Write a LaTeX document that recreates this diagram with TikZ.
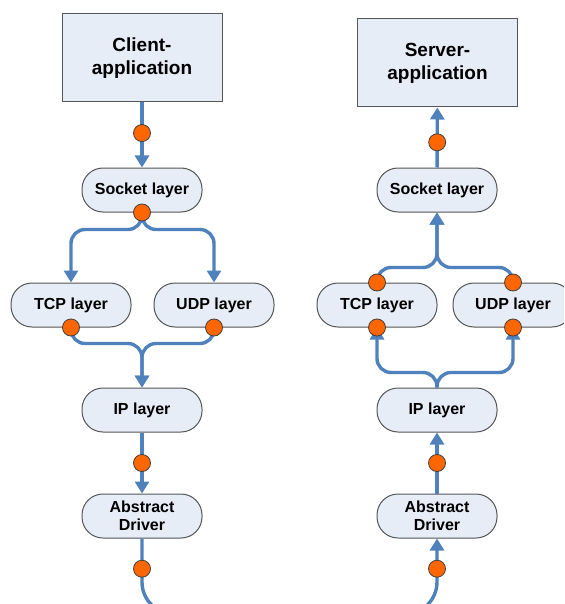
\documentclass[tikz,border=0pt]{standalone}
\usepackage{fontspec}
\setmainfont{Liberation Sans}
\usetikzlibrary{arrows.meta,positioning}
\definecolor{flowblue}{RGB}{79,129,189}
\definecolor{layerfill}{RGB}{231,237,247}
\definecolor{edgegray}{RGB}{85,85,85}
\definecolor{dotorange}{RGB}{255,102,0}

\tikzset{
  appbox/.style={draw=edgegray,fill=layerfill,line width=1pt,minimum width=160pt,
    minimum height=88pt,align=center,font=\bfseries\fontsize{19}{23}\selectfont},
  layer/.style={draw=edgegray,fill=layerfill,line width=1pt,rounded corners=21pt,
    minimum width=120pt,minimum height=44pt,align=center,
    font=\bfseries\fontsize{16}{18}\selectfont},
  flow/.style={flowblue,line width=3.4pt},
  dot/.style={circle,draw=black!75,fill=dotorange,line width=0.8pt,
    minimum size=17pt,inner sep=0pt}
}

\begin{document}
\begin{tikzpicture}[x=1pt,y=-1pt,>={Triangle[length=12pt,width=14pt]}]
  \useasboundingbox (0,0) rectangle (564,604);
  \clip (0,0) rectangle (564,604);

  % client side
  \node[appbox] (client) at (142,58) {Client-\\application};
  \node[layer] (sockL) at (142,190) {Socket layer};
  \node[layer] (tcpL) at (71,305) {TCP layer};
  \node[layer] (udpL) at (214,305) {UDP layer};
  \node[layer] (ipL) at (142,410) {IP layer};
  \node[layer] (absL) at (142,516) {Abstract\\Driver};
  \coordinate (outL) at (210,614);

  \draw[flow,->] (client) -- node[dot,pos=.47] (dC) {} (sockL);
  \draw[flow,->,rounded corners=14pt] (sockL.south) -- ++(0,17) -| (tcpL.north);
  \draw[flow,->,rounded corners=14pt] (sockL.south) -- ++(0,17) -| (udpL.north);
  \draw[flow,->,rounded corners=14pt] (tcpL.south) -- ++(0,16) -| (ipL.north);
  \draw[flow,->,rounded corners=14pt] (udpL.south) -- ++(0,16) -| (ipL.north);
  \draw[flow,->] (ipL) -- node[dot,pos=.5] (dIL) {} (absL);
  \draw[flow,rounded corners=32pt] (absL.south) |- node[dot,pos=.2] (dAL) {} (outL);
  \node[dot] (dSL) at (sockL.south) {};
  \node[dot] (dTL) at (tcpL.south) {};
  \node[dot] (dUL) at (udpL.south) {};

  % server side
  \node[appbox] (server) at (437.5,63) {Server-\\application};
  \node[layer] (sockR) at (437,190) {Socket layer};
  \node[layer] (tcpR) at (377,305) {TCP layer};
  \node[layer] (udpR) at (513,305) {UDP layer};
  \node[layer] (ipR) at (437,410) {IP layer};
  \node[layer] (absR) at (437,516) {Abstract\\Driver};
  \coordinate (inR) at (370,614);

  \draw[flow,->] (sockR) -- node[dot,pos=.42] (dSR) {} (server);
  \draw[flow,->,rounded corners=14pt] (tcpR.north) -- ++(0,-15) -| (sockR.south);
  \draw[flow,->,rounded corners=14pt] (udpR.north) -- ++(0,-15) -| (sockR.south);
  \draw[flow,->,rounded corners=14pt] (ipR.north) -- ++(0,-15) -| (tcpR.south);
  \draw[flow,->,rounded corners=14pt] (ipR.north) -- ++(0,-15) -| (udpR.south);
  \draw[flow,->] (absR) -- node[dot,pos=.5] (dIR) {} (ipR);
  \draw[flow,->,rounded corners=32pt] (inR) -| node[dot,pos=.8] (dAR) {} (absR.south);
  \node[dot] (dTRt) at (tcpR.north) {};
  \node[dot] (dTRb) at (tcpR.south) {};
  \node[dot] (dURt) at (udpR.north) {};
  \node[dot] (dURb) at (udpR.south) {};
\end{tikzpicture}
\end{document}
